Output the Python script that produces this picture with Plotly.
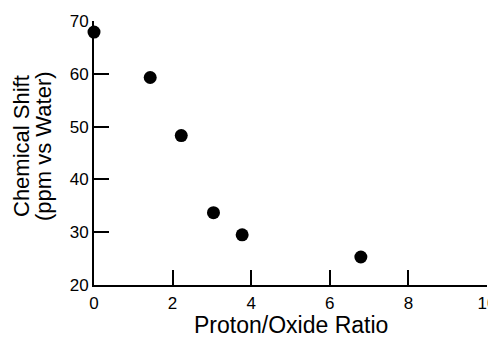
import plotly.graph_objects as go

# Data
proton_oxide_ratio = [0.0, 1.43, 2.22, 3.04, 3.77, 6.79]
chemical_shift = [67.9, 59.3, 48.3, 33.7, 29.5, 25.3]

x_ticks = [0, 2, 4, 6, 8, 10]
y_ticks = [20, 30, 40, 50, 60, 70]

x_title = "Proton/Oxide Ratio"
y_title_lines = ["Chemical Shift", "(ppm vs Water)"]

FONT = "Liberation Sans, Arial, Helvetica, sans-serif"

fig = go.Figure()
fig.add_trace(go.Scatter(
    x=proton_oxide_ratio,
    y=chemical_shift,
    mode="markers",
    marker=dict(size=13, color="black"),
    cliponaxis=False,
    showlegend=False,
))

axis_common = dict(
    tickmode="array",
    ticks="inside",
    ticklen=15,
    tickwidth=2,
    tickcolor="#000000",
    showline=True,
    linecolor="black",
    linewidth=2,
    showgrid=False,
    zeroline=False,
    automargin=False,
    ticklabeloverflow="allow",
    layer="above traces",
    tickfont=dict(size=17),
)

# The page body has an 8px default margin, so the figure is sized to fit inside it.
fig.update_layout(
    width=488,
    height=329,
    margin=dict(l=86, r=9, t=13, b=52, autoexpand=False),
    paper_bgcolor="white",
    plot_bgcolor="white",
    font=dict(family=FONT, color="black", size=17),
    xaxis=dict(
        range=[0, 10],
        tickvals=x_ticks,
        ticktext=[str(v) for v in x_ticks],
        ticklabelstandoff=2,
        **axis_common,
    ),
    yaxis=dict(
        range=[20, 70],
        tickvals=y_ticks,
        ticktext=[str(v) for v in y_ticks],
        **axis_common,
    ),
)

# x-axis title placed just under the tick labels
fig.add_annotation(
    text=x_title,
    xref="paper", yref="paper",
    x=0.5, y=0,
    xanchor="center", yanchor="top",
    yshift=-25,
    showarrow=False,
    font=dict(size=23, family=FONT, color="black"),
)

# Two-line y-axis title with tight line spacing, as in the reference
for line, shift in zip(y_title_lines, [-73, -51]):
    fig.add_annotation(
        text=line,
        textangle=-90,
        xref="paper", yref="paper",
        x=0, y=0.5,
        xanchor="center", yanchor="middle",
        xshift=shift, yshift=7,
        showarrow=False,
        font=dict(size=22, family=FONT, color="black"),
    )

fig.write_html("out.html")
